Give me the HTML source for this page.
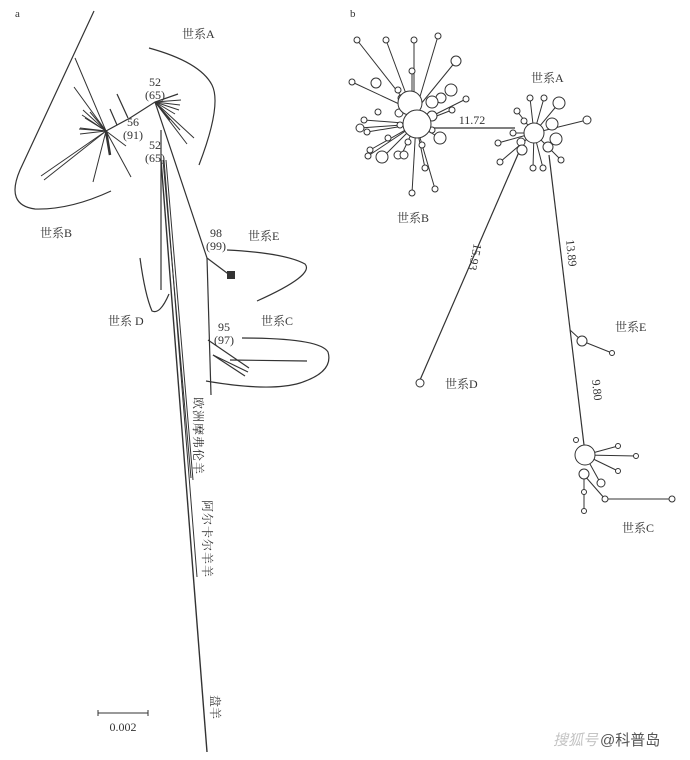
<!DOCTYPE html>
<html><head><meta charset="utf-8"><style>
html,body{margin:0;padding:0;background:#fff}
svg{display:block}
text{font-family:"Liberation Serif","Noto Serif CJK SC",serif;fill:#333}
.c{font-family:"Liberation Serif","Noto Serif CJK SC","Noto Sans CJK SC",serif;font-size:12px}
</style></head><body>
<svg width="690" height="760" viewBox="0 0 690 760" xmlns="http://www.w3.org/2000/svg">
<g stroke="#333" fill="none" stroke-width="1.2">
<path d="M94,11 L20,170 Q5,205 35,209 Q70,210 111,191"/>
<path d="M149,48 Q200,62 212,85 Q222,105 199,165"/>
<path d="M140,258 Q145,295 152,311 Q160,315 169,294"/>
<path d="M227,250 Q285,253 305,264 Q315,275 257,301"/>
<path d="M242,338 Q320,338 328,352 Q334,372 300,383 Q270,392 206,381"/>
<path d="M106,131 L130,118 L155,102 L178,94"/>
<line x1="117" y1="94" x2="128" y2="118"/>
<line x1="110" y1="109" x2="117" y2="125"/>
<g stroke-width="1">
<line x1="106" y1="131" x2="75" y2="58"/>
<line x1="106" y1="131" x2="74" y2="87"/>
<line x1="106" y1="131" x2="83" y2="110"/>
<line x1="106" y1="131" x2="85" y2="118"/>
<line x1="106" y1="131" x2="80" y2="128"/>
<line x1="106" y1="131" x2="80" y2="134"/>
<line x1="106" y1="131" x2="79" y2="129"/>
<line x1="106" y1="131" x2="41" y2="176"/>
<line x1="106" y1="131" x2="44" y2="180"/>
<line x1="106" y1="131" x2="93" y2="182"/>
<line x1="106" y1="131" x2="110" y2="155"/>
<line x1="106" y1="131" x2="131" y2="177"/>
<line x1="106" y1="131" x2="126" y2="146"/>
<line x1="106" y1="131" x2="90" y2="112"/>
<line x1="106" y1="131" x2="82" y2="115"/>
</g>
<line x1="106" y1="131" x2="110" y2="155" stroke-width="2.5"/>
<g stroke-width="1">
<line x1="155" y1="102" x2="181" y2="100"/>
<line x1="155" y1="102" x2="180" y2="105"/>
<line x1="155" y1="102" x2="179" y2="110"/>
<line x1="155" y1="102" x2="175" y2="114"/>
<line x1="155" y1="102" x2="194" y2="138"/>
<line x1="155" y1="102" x2="187" y2="144"/>
<line x1="155" y1="102" x2="180" y2="130"/>
<line x1="155" y1="102" x2="170" y2="120"/>
</g>
<line x1="155" y1="102" x2="207" y2="258"/>
<line x1="207" y1="258" x2="231" y2="276"/>
<line x1="207" y1="258" x2="211" y2="395"/>
<line x1="208" y1="340" x2="249" y2="368"/>
<line x1="213" y1="355" x2="248" y2="372"/>
<line x1="213" y1="355" x2="245" y2="376"/>
<line x1="230" y1="360" x2="307" y2="361"/>
<line x1="161" y1="130" x2="161" y2="290"/>
<line x1="161" y1="160" x2="207" y2="752" stroke-width="1.4"/>
<line x1="163" y1="160" x2="191" y2="478" stroke-width="1"/>
<line x1="164" y1="160" x2="197" y2="577" stroke-width="1"/>
<line x1="166" y1="160" x2="193" y2="480" stroke-width="1"/>
<path d="M98,710 V716 M98,713 H148 M148,710 V716" stroke-width="1"/>
</g>
<rect x="227" y="271" width="8" height="8" fill="#333"/>
<text x="15" y="17" font-size="11">a</text>
<text x="350" y="17" font-size="11">b</text>
<g class="c">
<text x="182" y="38" class="c">世系A</text>
<text x="40" y="237" class="c">世系B</text>
<text x="108" y="325" class="c">世系 D</text>
<text x="248" y="240" class="c">世系E</text>
<text x="261" y="325" class="c">世系C</text>
<text x="531" y="82" class="c">世系A</text>
<text x="397" y="222" class="c">世系B</text>
<text x="445" y="388" class="c">世系D</text>
<text x="615" y="331" class="c">世系E</text>
<text x="622" y="532" class="c">世系C</text>
</g>
<g font-size="12" text-anchor="middle">
<text x="155" y="86">52</text><text x="155" y="99">(65)</text>
<text x="133" y="126">56</text><text x="133" y="139">(91)</text>
<text x="155" y="149">52</text><text x="155" y="162">(65)</text>
<text x="216" y="237">98</text><text x="216" y="250">(99)</text>
<text x="224" y="331">95</text><text x="224" y="344">(97)</text>
<text x="123" y="731">0.002</text>
<text x="472" y="124">11.72</text>
</g>
<g class="c" font-size="12">
<text transform="translate(194,397) rotate(90)" letter-spacing="1">欧洲摩弗伦羊</text>
<text transform="translate(203,500) rotate(90)" letter-spacing="1">阿尔卡尔羊羊</text>
<text transform="translate(211,695) rotate(90)">盘羊</text>
</g>
<text transform="translate(474,243) rotate(102)" font-size="12">15.93</text>
<text transform="translate(566,240) rotate(84)" font-size="12">13.89</text>
<text transform="translate(592,380) rotate(84)" font-size="12">9.80</text>
<g stroke="#333" fill="none" stroke-width="1">
<line x1="430" y1="128" x2="515" y2="128" stroke-width="1.2"/>
<line x1="519" y1="152" x2="420" y2="380" stroke-width="1.2"/>
<line x1="549" y1="155" x2="584" y2="445" stroke-width="1.2"/>
<line x1="570" y1="330" x2="582" y2="341"/>
<line x1="582" y1="341" x2="612" y2="353"/>
<g>
<line x1="412" y1="110" x2="357" y2="40"/>
<line x1="412" y1="110" x2="386" y2="40"/>
<line x1="414" y1="110" x2="414" y2="40"/>
<line x1="416" y1="110" x2="438" y2="36"/>
<line x1="416" y1="110" x2="456" y2="61"/>
<line x1="412" y1="110" x2="352" y2="82"/>
<line x1="412" y1="110" x2="412" y2="71"/>
<line x1="416" y1="124" x2="364" y2="120"/>
<line x1="416" y1="124" x2="360" y2="128"/>
<line x1="416" y1="124" x2="367" y2="132"/>
<line x1="416" y1="124" x2="466" y2="99"/>
<line x1="416" y1="124" x2="452" y2="110"/>
<line x1="416" y1="124" x2="370" y2="150"/>
<line x1="416" y1="124" x2="368" y2="156"/>
<line x1="416" y1="124" x2="412" y2="193"/>
<line x1="416" y1="124" x2="435" y2="189"/>
<line x1="416" y1="124" x2="440" y2="138"/>
<line x1="416" y1="124" x2="425" y2="168"/>
<line x1="416" y1="124" x2="400" y2="158"/>
<line x1="416" y1="124" x2="383" y2="157"/>
</g>
<g fill="#fff">
<circle cx="357" cy="40" r="3"/><circle cx="386" cy="40" r="3"/><circle cx="414" cy="40" r="3"/><circle cx="438" cy="36" r="3"/>
<circle cx="456" cy="61" r="5"/><circle cx="352" cy="82" r="3"/><circle cx="412" cy="71" r="3"/>
<circle cx="376" cy="83" r="5"/><circle cx="398" cy="90" r="3"/><circle cx="401" cy="98" r="3"/>
<circle cx="451" cy="90" r="6"/><circle cx="441" cy="98" r="5"/><circle cx="466" cy="99" r="3"/>
<circle cx="364" cy="120" r="3"/><circle cx="360" cy="128" r="4"/><circle cx="367" cy="132" r="3"/>
<circle cx="378" cy="112" r="3"/><circle cx="399" cy="113" r="4"/><circle cx="432" cy="102" r="6"/>
<circle cx="432" cy="116" r="5"/><circle cx="452" cy="110" r="3"/><circle cx="440" cy="138" r="6"/>
<circle cx="370" cy="150" r="3"/><circle cx="368" cy="156" r="3"/><circle cx="382" cy="157" r="6"/>
<circle cx="398" cy="155" r="4"/><circle cx="404" cy="155" r="4"/><circle cx="412" cy="193" r="3"/>
<circle cx="435" cy="189" r="3"/><circle cx="425" cy="168" r="3"/><circle cx="388" cy="138" r="3"/>
<circle cx="432" cy="130" r="3"/><circle cx="422" cy="145" r="3"/><circle cx="408" cy="142" r="3"/>
<circle cx="400" cy="125" r="3"/>
<circle cx="410" cy="103" r="12"/><circle cx="417" cy="124" r="14"/>
</g>
<g>
<line x1="534" y1="133" x2="530" y2="98"/><line x1="534" y1="133" x2="544" y2="98"/>
<line x1="534" y1="133" x2="559" y2="103"/><line x1="534" y1="133" x2="517" y2="111"/>
<line x1="534" y1="133" x2="587" y2="120"/><line x1="534" y1="133" x2="500" y2="162"/>
<line x1="534" y1="133" x2="498" y2="143"/><line x1="534" y1="133" x2="533" y2="168"/>
<line x1="534" y1="133" x2="543" y2="168"/><line x1="534" y1="133" x2="561" y2="160"/>
<line x1="534" y1="133" x2="510" y2="133"/>
</g>
<g fill="#fff">
<circle cx="530" cy="98" r="3"/><circle cx="544" cy="98" r="3"/><circle cx="559" cy="103" r="6"/>
<circle cx="517" cy="111" r="3"/><circle cx="524" cy="121" r="3"/><circle cx="587" cy="120" r="4"/>
<circle cx="513" cy="133" r="3"/><circle cx="521" cy="142" r="4"/><circle cx="552" cy="124" r="6"/>
<circle cx="556" cy="139" r="6"/><circle cx="548" cy="147" r="5"/><circle cx="522" cy="150" r="5"/>
<circle cx="500" cy="162" r="3"/><circle cx="498" cy="143" r="3"/><circle cx="533" cy="168" r="3"/>
<circle cx="543" cy="168" r="3"/><circle cx="561" cy="160" r="3"/>
<circle cx="534" cy="133" r="10"/>
</g>
<circle cx="420" cy="383" r="4" fill="#fff"/>
<circle cx="582" cy="341" r="5" fill="#fff"/>
<circle cx="612" cy="353" r="2.5" fill="#fff"/>
<g>
<line x1="585" y1="455" x2="618" y2="446"/><line x1="585" y1="455" x2="636" y2="456"/>
<line x1="585" y1="455" x2="618" y2="471"/><line x1="584" y1="475" x2="605" y2="499"/>
<line x1="584" y1="475" x2="584" y2="511"/><line x1="605" y1="499" x2="672" y2="499"/>
<line x1="585" y1="455" x2="601" y2="484"/>
</g>
<g fill="#fff">
<circle cx="576" cy="440" r="2.5"/><circle cx="618" cy="446" r="2.5"/><circle cx="636" cy="456" r="2.5"/>
<circle cx="618" cy="471" r="2.5"/><circle cx="601" cy="483" r="4"/><circle cx="584" cy="492" r="2.5"/>
<circle cx="584" cy="511" r="2.5"/><circle cx="605" cy="499" r="3"/><circle cx="672" cy="499" r="3"/>
<circle cx="585" cy="455" r="10"/><circle cx="584" cy="474" r="5"/>
</g>
</g>
<text x="553" y="745" font-size="15" style="fill:#c4c4c4;font-family:'Liberation Sans','Noto Sans CJK SC',sans-serif;font-style:italic">搜狐号</text>
<text x="600" y="745" font-size="15" style="fill:#555;font-family:'Liberation Sans','Noto Sans CJK SC',sans-serif">@科普岛</text>
</svg>
</body></html>
